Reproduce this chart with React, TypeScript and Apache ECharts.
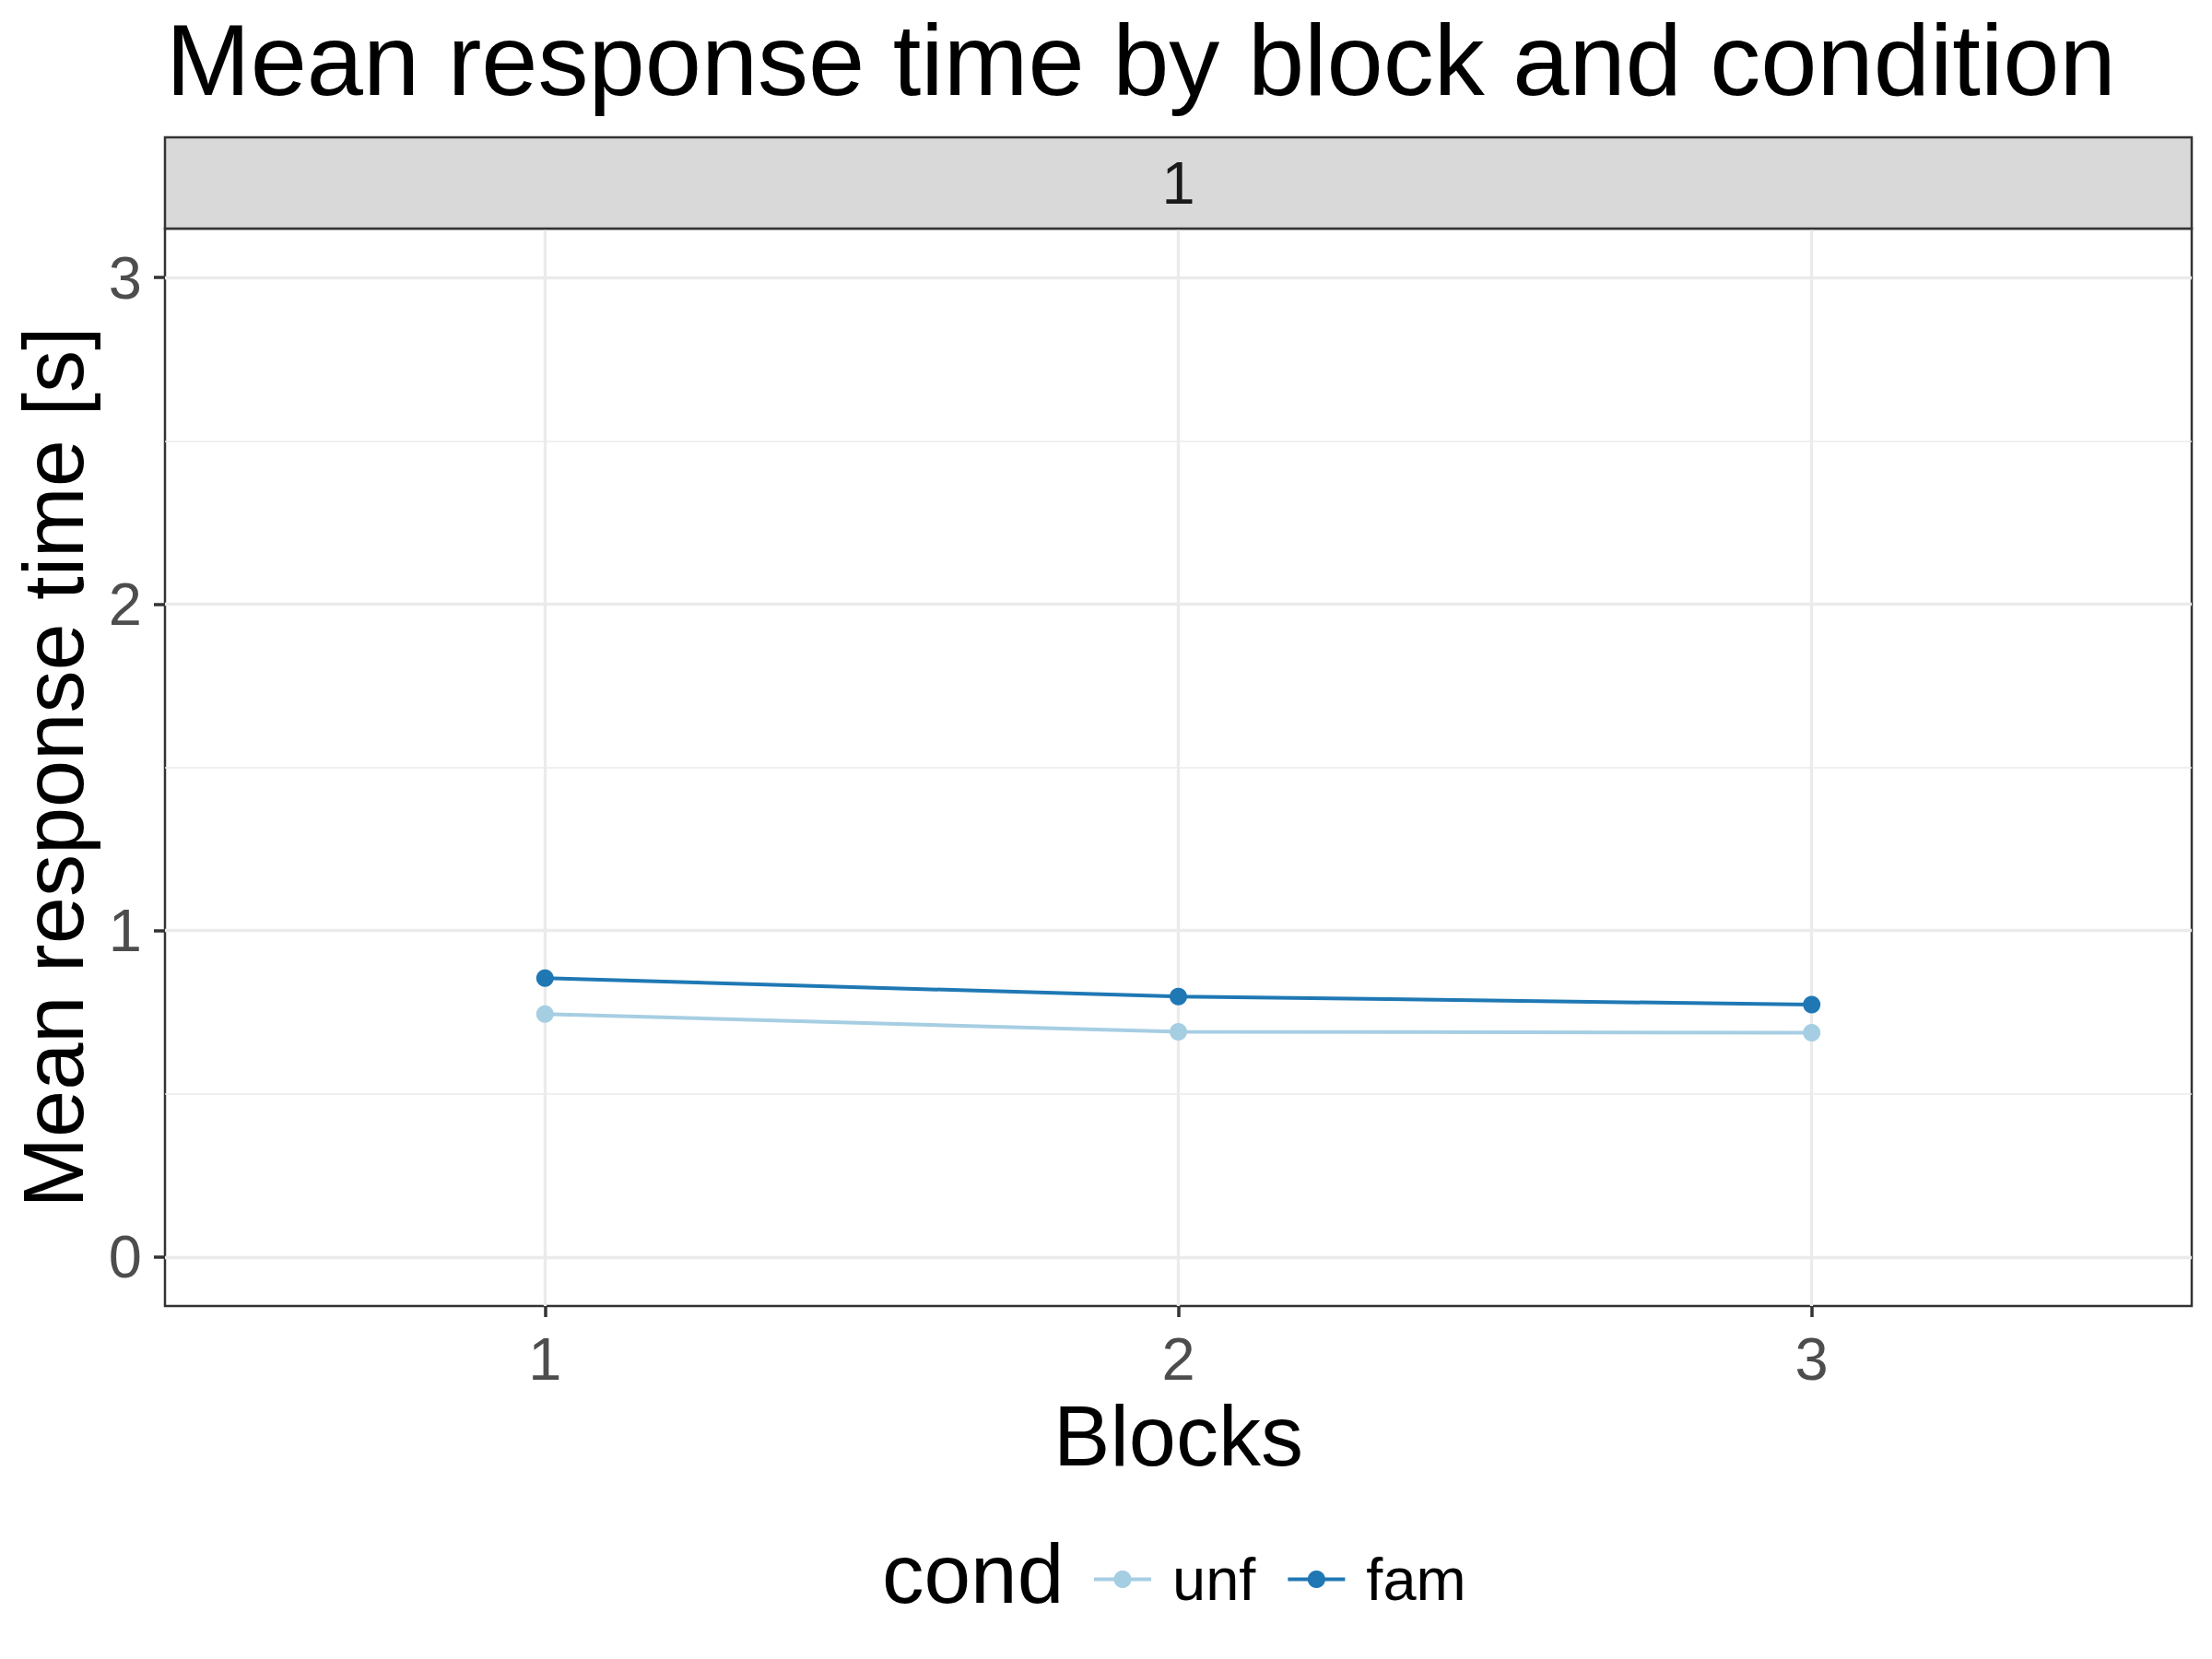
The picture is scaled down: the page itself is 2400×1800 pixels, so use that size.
import { useEffect, useRef } from "react";
import * as echarts from "echarts";

// 数据：每个区组的平均反应时间（秒）
const BLOCKS = [1, 2, 3];
const UNF = [0.744, 0.69, 0.687];
const FAM = [0.854, 0.798, 0.773];
const X_TICKS = [1, 2, 3];
const Y_TICKS = [0, 1, 2, 3];
const Y_MINOR = [0.5, 1.5, 2.5];
const CONDS = ["unf", "fam"];
const COLORS = ["#a6cee3", "#1f78b4"];

const FONT = '"Liberation Sans", Arial, sans-serif';

// 面板位置（像素）
const PANEL_LEFT = 179;
const PANEL_RIGHT = 2378;
const PANEL_TOP = 248;
const PANEL_BOTTOM = 1417;
const STRIP_TOP = 149;

export default function App() {
  const ref = useRef<HTMLDivElement>(null);

  useEffect(() => {
    if (!ref.current) return;
    const chart = echarts.init(ref.current, null, { renderer: "svg" });

    const seriesData = [UNF, FAM].map((vals) =>
      BLOCKS.map((b, i) => [b, vals[i]]),
    );

    chart.setOption({
      animation: false,
      backgroundColor: "#ffffff",
      textStyle: { fontFamily: FONT },
      title: {
        text: "Mean response time by block and condition",
        left: 180,
        top: 9,
        padding: 0,
        textStyle: {
          fontFamily: FONT,
          fontSize: 110,
          fontWeight: "normal",
          color: "#000000",
        },
      },
      grid: {
        left: PANEL_LEFT,
        right: 2400 - PANEL_RIGHT,
        top: PANEL_TOP,
        bottom: 1800 - PANEL_BOTTOM,
        show: true,
        borderColor: "#333333",
        borderWidth: 2.5,
        backgroundColor: "#ffffff",
      },
      xAxis: {
        type: "value",
        min: 0.4,
        max: 3.6,
        name: "Blocks",
        nameLocation: "middle",
        nameGap: 84,
        nameTextStyle: { fontFamily: FONT, fontSize: 92, color: "#000000" },
        axisLine: { show: false, onZero: false },
        axisTick: {
          show: true,
          customValues: X_TICKS,
          length: 12,
          lineStyle: { color: "#333333", width: 3.5 },
        },
        axisLabel: {
          customValues: X_TICKS,
          margin: 25,
          fontSize: 65,
          color: "#4d4d4d",
          fontFamily: FONT,
        },
        splitLine: { show: true, lineStyle: { color: "#ebebeb", width: 3.3 } },
      },
      yAxis: [
        {
          type: "value",
          min: -0.15,
          max: 3.15,
          name: "Mean response time [s]",
          nameLocation: "middle",
          nameGap: 75,
          nameTextStyle: { fontFamily: FONT, fontSize: 92, color: "#000000" },
          axisLine: { show: false, onZero: false },
          axisTick: {
            show: true,
            customValues: Y_TICKS,
            length: 12,
            lineStyle: { color: "#333333", width: 3.5 },
          },
          axisLabel: {
            customValues: Y_TICKS,
            margin: 25,
            fontSize: 65,
            color: "#4d4d4d",
            fontFamily: FONT,
          },
          splitLine: {
            show: true,
            lineStyle: { color: "#ebebeb", width: 3.3 },
          },
        },
        {
          type: "value",
          min: -0.15,
          max: 3.15,
          position: "left",
          axisLine: { show: false, onZero: false },
          axisTick: { show: false, customValues: Y_MINOR },
          axisLabel: { show: false, customValues: Y_MINOR },
          splitLine: {
            show: true,
            lineStyle: { color: "#ebebeb", width: 1.6 },
          },
        },
      ],
      legend: {
        orient: "horizontal",
        left: 1180,
        top: 1676,
        itemWidth: 62,
        itemHeight: 24,
        itemGap: 33,
        lineStyle: { width: 4 },
        textStyle: {
          fontFamily: FONT,
          fontSize: 65,
          color: "#000000",
          padding: [0, 0, 0, 18],
        },
        data: CONDS,
      },
      graphic: [
        {
          type: "rect",
          z: 10,
          shape: {
            x: PANEL_LEFT,
            y: STRIP_TOP,
            width: PANEL_RIGHT - PANEL_LEFT,
            height: PANEL_TOP - STRIP_TOP,
          },
          style: { fill: "#d9d9d9", stroke: "#333333", lineWidth: 2.5 },
        },
        {
          type: "text",
          z: 11,
          x: (PANEL_LEFT + PANEL_RIGHT) / 2,
          y: (STRIP_TOP + PANEL_TOP) / 2,
          style: {
            text: "1",
            fontFamily: FONT,
            fontSize: 65,
            fill: "#1a1a1a",
            align: "center",
            verticalAlign: "middle",
          },
        },
        {
          type: "text",
          x: 957,
          y: 1707,
          style: {
            text: "cond",
            fontFamily: FONT,
            fontSize: 91,
            fill: "#000000",
            align: "left",
            verticalAlign: "middle",
          },
        },
      ],
      series: CONDS.map((name, k) => ({
        name,
        type: "line",
        data: seriesData[k],
        yAxisIndex: 0,
        symbol: "circle",
        symbolSize: 19,
        color: COLORS[k],
        lineStyle: { color: COLORS[k], width: 4 },
        itemStyle: { color: COLORS[k] },
        emphasis: { disabled: true },
      })),
    });

    return () => {
      chart.dispose();
    };
  }, []);

  return (
    <div
      ref={ref}
      style={{ position: "fixed", left: 0, top: 0, width: 2400, height: 1800 }}
    />
  );
}
